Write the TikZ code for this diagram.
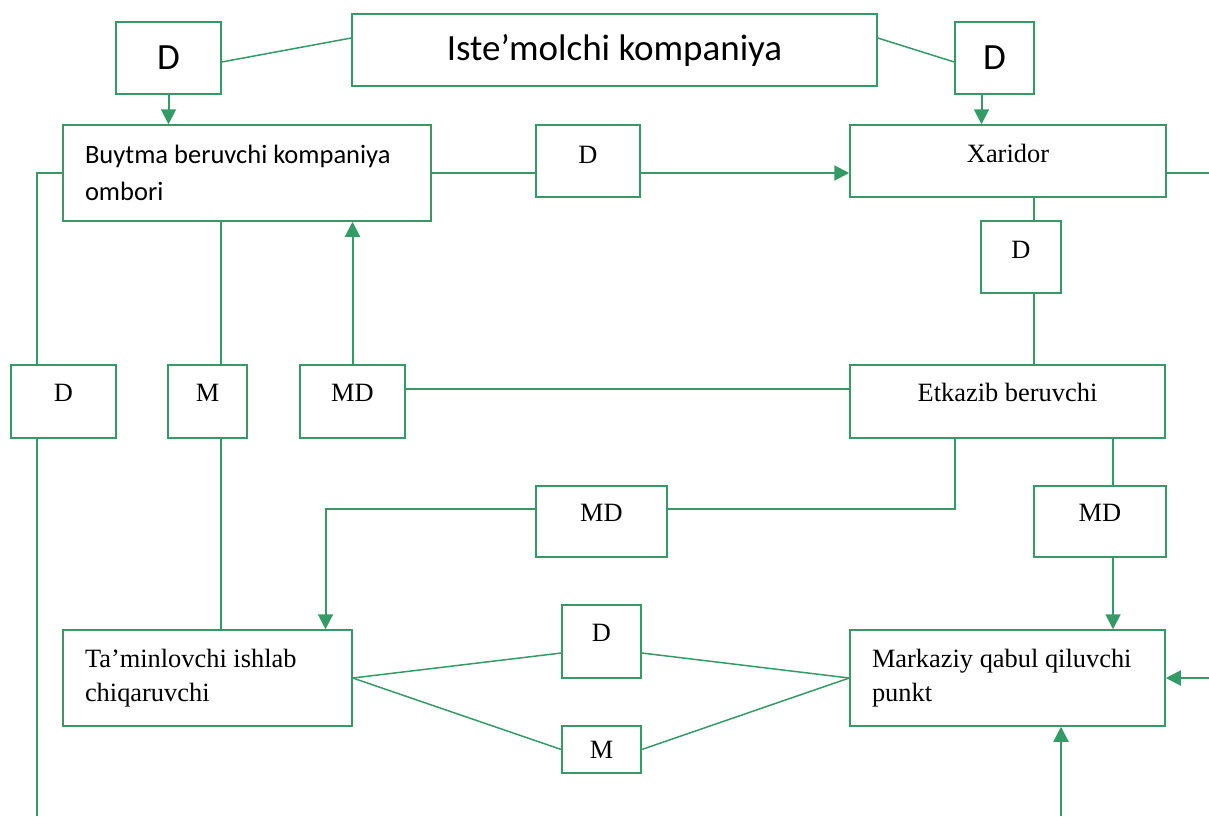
\documentclass[tikz,border=0pt]{standalone}
\usepackage{fontspec}
\setmainfont{Liberation Serif}
\newfontfamily\calibri{Carlito}
\usetikzlibrary{arrows.meta,calc}
\definecolor{flowgreen}{RGB}{52,155,103}
\tikzset{
  box/.style={draw=flowgreen, line width=1.5pt, inner sep=0pt, font=\fontsize{26.4}{34}\selectfont},
  bigbox/.style={box, font=\calibri\fontsize{37}{44}\selectfont},
  textbox/.style={box, align=flush left, inner xsep=22pt, text width=#1},
  link/.style={draw=flowgreen, line width=1.5pt},
  arr/.style={link, line width=2pt, -{Triangle[length=15pt,width=15pt]}},
}
\begin{document}
\begin{tikzpicture}[x=1pt,y=-1pt,line join=miter]
		\useasboundingbox (0,0) rectangle (1209,816);

		% oberste Reihe
		\node[bigbox, minimum width=105pt, minimum height=72pt] (dTL) at (168.5,58) {D};
		\node[bigbox, minimum width=525pt, minimum height=72pt] (ist) at (614.5,50) {Iste’molchi kompaniya};
		\node[bigbox, minimum width=79pt, minimum height=72pt] (dTR) at (994.5,58) {D};

		% zweite Reihe
		\node[textbox=324pt, minimum width=368pt, minimum height=96pt, font=\calibri\fontsize{26.5}{36.7}\selectfont] (buyt) at (247,173) {Buytma beruvchi kompaniya\\ombori};
		\node[box, minimum width=104pt, minimum height=72pt, text height=18pt, text depth=14pt] (dMid) at (588,161) {D};
		\node[box, minimum width=316pt, minimum height=72pt, text height=18pt, text depth=16pt] (xar) at (1008,161) {Xaridor};
		\node[box, minimum width=80pt, minimum height=72pt, text height=18pt, text depth=16pt] (dXar) at (1021,257) {D};

		% mittlere Reihe
		\node[box, minimum width=105pt, minimum height=73pt, text height=18pt, text depth=18pt] (dL) at (63.5,401.5) {D};
		\node[box, minimum width=79pt, minimum height=73pt, text height=18pt, text depth=18pt] (mL) at (207.5,401.5) {M};
		\node[box, minimum width=105pt, minimum height=73pt, text height=18pt, text depth=18pt] (mdL) at (352.5,401.5) {MD};
		\node[box, minimum width=315pt, minimum height=73pt, text height=18pt, text depth=18pt] (etk) at (1007.5,401.5) {Etkazib beruvchi};
		\node[box, minimum width=131pt, minimum height=71pt, text height=18pt, text depth=18pt] (mdMid) at (601.5,521.5) {MD};
		\node[box, minimum width=132pt, minimum height=71pt, text height=18pt, text depth=18pt] (mdR) at (1100,521.5) {MD};

		% untere Reihe
		\node[textbox=245pt, minimum width=289pt, minimum height=96pt] (tam) at (207.5,678) {Ta’minlovchi ishlab\\chiqaruvchi};
		\node[box, minimum width=79pt, minimum height=73pt, text height=18pt, text depth=18pt] (dLow) at (601.5,641.5) {D};
		\node[box, minimum width=79pt, minimum height=47pt] (mLow) at (601.5,749.5) {M};
		\node[textbox=271pt, minimum width=315pt, minimum height=96pt] (mark) at (1007.5,678) {Markaziy qabul qiluvchi\\punkt};

		% freie Enden am Rand
		\coordinate (lft) at (37,816);
		\coordinate (rgtTop) at (1209,173);
		\coordinate (rgtLow) at (1209,678);
		\coordinate (btm) at (1061,816);

		% Verbindungen oben
		\draw[link] ([yshift=12pt]ist.west) -- ([yshift=-4pt]dTL.east);
		\draw[link] ([yshift=12pt]ist.east) -- ([yshift=-4pt]dTR.west);
		\draw[arr] (dTL.south) -- (dTL.south |- buyt.north);
		\draw[arr] ([xshift=-13pt]dTR.south) -- ([xshift=-13pt]dTR.south |- xar.north);
		\draw[link] (buyt.east) -- (buyt.east -| dMid.west);
		\draw[arr] (dMid.east |- buyt.east) -- (xar.west |- buyt.east);
		\draw[link] (xar.east |- rgtTop) -- (rgtTop);

		% linke Seite
		\draw[link] (buyt.west) -| (dL.north -| lft);
		\draw[link] (dL.south -| lft) -- (lft);
		\draw[link] ([xshift=13.5pt]mL.north |- buyt.south) -- ([xshift=13.5pt]mL.north);
		\draw[link] ([xshift=13.5pt]mL.south) -- ([xshift=13.5pt]mL.south |- tam.north);
		\draw[arr] (mdL.north) -- (mdL.north |- buyt.south);
		\draw[link] ([yshift=12.5pt]mdL.east) -- ([yshift=12.5pt]mdL.east -| etk.west);

		% rechte Seite
		\draw[link] ([xshift=13pt]dXar.north |- xar.south) -- ([xshift=13pt]dXar.north);
		\draw[link] ([xshift=13pt]dXar.south) -- ([xshift=13pt]dXar.south |- etk.north);
		\draw[link] ([xshift=-52.5pt]etk.south) |- ([yshift=12.5pt]mdMid.east);
		\draw[arr] ([yshift=12.5pt]mdMid.west) -| ([xshift=118pt]tam.north);
		\draw[link] ([xshift=13pt]mdR.north |- etk.south) -- ([xshift=13pt]mdR.north);
		\draw[arr] ([xshift=13pt]mdR.south) -- ([xshift=13pt]mdR.south |- mark.north);

		% unten
		\draw[link] (tam.east) -- ([yshift=-11.5pt]dLow.west);
		\draw[link] (tam.east) -- (mLow.west);
		\draw[link] ([yshift=-11.5pt]dLow.east) -- (mark.west);
		\draw[link] (mLow.east) -- (mark.west);
		\draw[arr] (rgtLow) -- (mark.east);
		\draw[arr] (btm) -- (btm |- mark.south);
	\end{tikzpicture}
\end{document}
